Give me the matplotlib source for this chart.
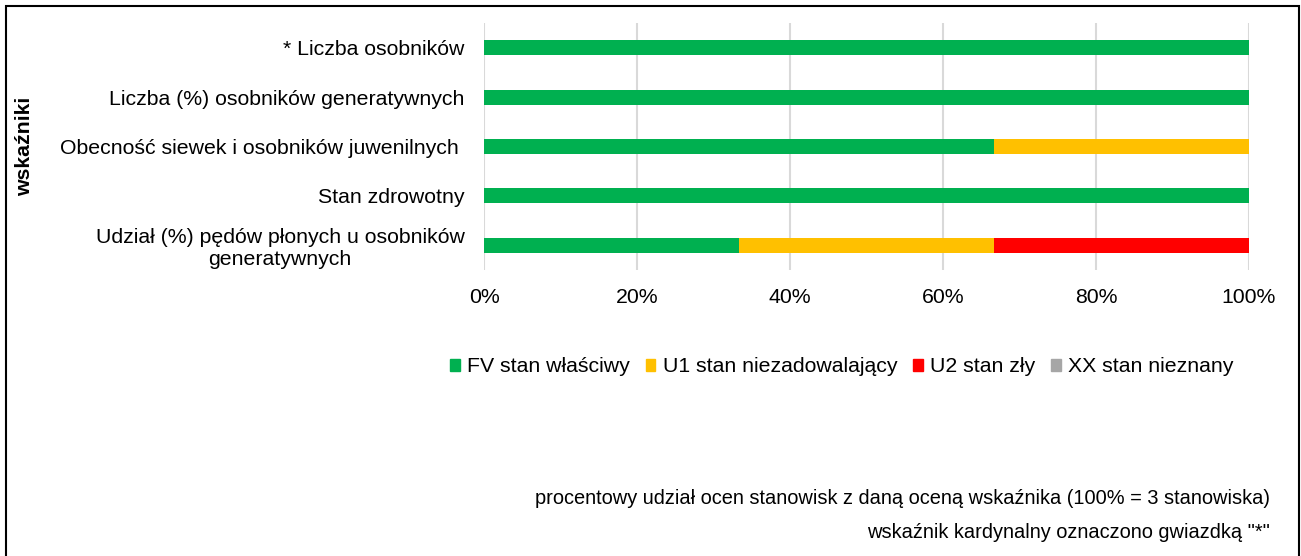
import matplotlib
matplotlib.use("Agg")
import matplotlib.pyplot as plt
import matplotlib.patches as mpatches
import numpy as np

plt.rcParams['font.family'] = ['Liberation Sans', 'DejaVu Sans']

# Data
categories = ['* Liczba osobników',
              'Liczba (%) osobników generatywnych',
              'Obecność siewek i osobników juwenilnych ',
              'Stan zdrowotny',
              'Udział (%) pędów płonych u osobników\ngeneratywnych']
fv = [100, 100, 66.67, 100, 33.33]
u1 = [0, 0, 33.33, 0, 33.33]
u2 = [0, 0, 0, 0, 33.34]
xx = [0, 0, 0, 0, 0]
series_names = ['FV stan właściwy', 'U1 stan niezadowalający', 'U2 stan zły', 'XX stan nieznany']
colors = ['#00B050', '#FFC000', '#FF0000', '#A6A6A6']

W, H = 1301, 556
fig = plt.figure(figsize=(W / 100, H / 100), dpi=100)
ax = fig.add_axes([484 / W, 1 - 270 / H, (1249 - 484) / W, (270 - 23) / H])

y = np.arange(len(categories))
left = np.zeros(len(categories))
for vals, c in zip([fv, u1, u2, xx], colors):
    vals = np.array(vals)
    ax.barh(y, vals, left=left, height=0.30, color=c, zorder=3)
    left += vals

ax.set_xlim(0, 100)
ax.set_ylim(len(categories) - 0.5, -0.5)
ax.set_xticks(np.arange(0, 101, 20))
ax.set_xticklabels([f'{v}%' for v in range(0, 101, 20)], fontsize=15.3)
ax.set_yticks(y)
ax.set_yticklabels(categories, fontsize=15.3, multialignment='center')
ax.tick_params(axis='x', length=0, pad=13)
ax.tick_params(axis='y', length=0, pad=14)
ax.grid(axis='x', color='#D9D9D9', linewidth=1.5, zorder=0)
for s in ax.spines.values():
    s.set_visible(False)

fig.text(25 / W, 1 - 146 / H, 'wskaźniki', rotation=90, fontsize=15.3,
         fontweight='bold', ha='center', va='center')

handles = [mpatches.Patch(color=c, label=n) for c, n in zip(colors, series_names)]
fig.legend(handles=handles, loc='center', bbox_to_anchor=(842 / W, 1 - 367 / H),
           ncol=4, frameon=False, fontsize=15.3, handlelength=0.45, handleheight=0.45,
           handletextpad=0.35, columnspacing=0.75)

fig.text(1270 / W, 1 - 498 / H,
         'procentowy udział ocen stanowisk z daną oceną wskaźnika (100% = 3 stanowiska)',
         fontsize=14.4, ha='right', va='center')
fig.text(1270 / W, 1 - 533 / H, 'wskaźnik kardynalny oznaczono gwiazdką "*"',
         fontsize=14.4, ha='right', va='center')

frame = mpatches.Rectangle((6 / W, -0.05), (1299 - 6) / W, 1 - 6 / H + 0.05,
                           transform=fig.transFigure, fill=False,
                           edgecolor='black', linewidth=1.5)
fig.patches.append(frame)

fig.savefig('out.png', dpi=100)
